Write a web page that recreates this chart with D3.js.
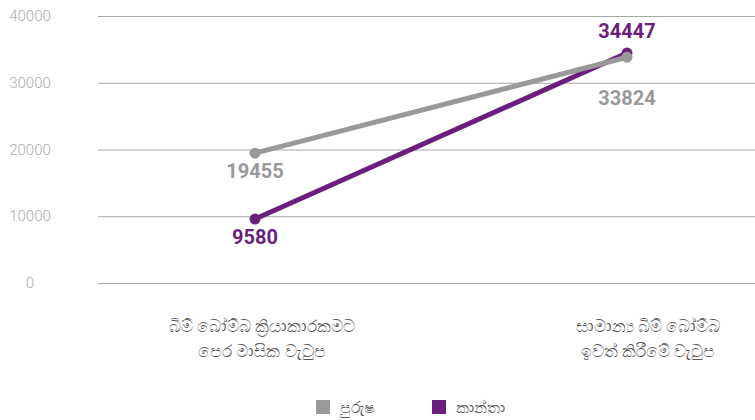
<!DOCTYPE html>
<html>
<head>
<meta charset="utf-8">
<script src="https://cdn.jsdelivr.net/npm/d3@7"></script>
<style>
  body { margin: 0; background: #fff; }
  svg { display: block; font-family: Roboto, "Noto Sans", sans-serif; }
</style>
</head>
<body>
<svg id="chart" width="755" height="420"></svg>
<script>
// categories (two lines each)
var categories = ["before", "after"];
var catLabels = [
  ["බිම් බෝම්බ ක්‍රියාකාරකමට", "පෙර මාසික වැටුප"],
  ["සාමාන්‍ය බිම් බෝම්බ", "ඉවත් කිරීමේ වැටුප"]
];
var seriesNames = ["පුරුෂ", "කාන්තා"];
var maleValues = [19455, 33824];
var femaleValues = [9580, 34447];
var yTicks = [0, 10000, 20000, 30000, 40000];
var colors = ["#999999", "#6b1f7c"];

var svg = d3.select("#chart");

var x = d3.scalePoint().domain(categories).range([255, 627]);
var xLab = d3.scalePoint().domain(categories).range([262, 648]);
var y = d3.scaleLinear().domain([0, 40000]).range([283, 16]);

// grid
svg.selectAll("line.grid")
  .data(yTicks)
  .enter().append("line")
  .attr("class", "grid")
  .attr("x1", 98).attr("x2", 755)
  .attr("y1", function(d) { return y(d) + 0.5; })
  .attr("y2", function(d) { return y(d) + 0.5; })
  .style("stroke", "#a6a6a6")
  .style("stroke-width", 1);

svg.selectAll("text.ytick")
  .data(yTicks)
  .enter().append("text")
  .attr("class", "ytick")
  .attr("x", 30)
  .attr("y", function(d) { return y(d) + 5; })
  .attr("text-anchor", "middle")
  .style("font-size", "15px")
  .style("font-weight", 300)
  .style("fill", "#ababab")
  .text(function(d) { return d; });

// x labels
catLabels.forEach(function(lines, i) {
  lines.forEach(function(line, j) {
    svg.append("text")
      .attr("x", xLab(categories[i]))
      .attr("y", 332 + j * 25)
      .attr("text-anchor", "middle")
      .style("font-size", "16.5px")
      .style("fill", "#595959")
      .text(line);
  });
});

// label offsets: below / above / far below the point
var series = [
  { name: seriesNames[0], values: maleValues, color: colors[0], offs: [25, 48] },
  { name: seriesNames[1], values: femaleValues, color: colors[1], offs: [25, -15] }
];

var line = d3.line()
  .x(function(d, i) { return x(categories[i]); })
  .y(function(d) { return y(d); });

// female drawn first so the grey line sits on top at the right end
series.slice().reverse().forEach(function(s) {
  svg.append("path")
    .datum(s.values)
    .attr("d", line)
    .style("fill", "none")
    .style("stroke", s.color)
    .style("stroke-width", 5);

  svg.selectAll(null)
    .data(s.values)
    .enter().append("circle")
    .attr("cx", function(d, i) { return x(categories[i]); })
    .attr("cy", function(d) { return y(d); })
    .attr("r", 5.5)
    .style("fill", s.color);

  svg.selectAll(null)
    .data(s.values)
    .enter().append("text")
    .attr("x", function(d, i) { return x(categories[i]); })
    .attr("y", function(d, i) { return y(d) + s.offs[i]; })
    .attr("text-anchor", "middle")
    .style("font-size", "20px")
    .style("font-weight", "bold")
    .style("fill", s.color)
    .text(function(d) { return d; });
});

// legend
var legendX = [316, 432];
series.forEach(function(s, i) {
  svg.append("rect")
    .attr("x", legendX[i]).attr("y", 400)
    .attr("width", 14).attr("height", 14)
    .style("fill", s.color);
  svg.append("text")
    .attr("x", legendX[i] + 24).attr("y", 413)
    .style("font-size", "15.5px")
    .style("fill", "#595959")
    .text(s.name);
});
</script>
</body>
</html>
